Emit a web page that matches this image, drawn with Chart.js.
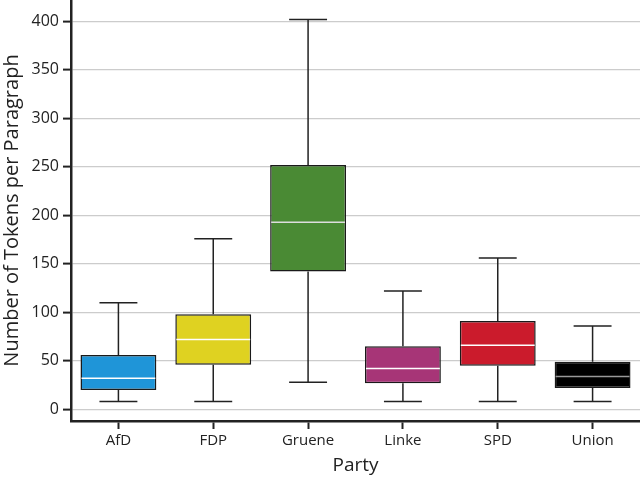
<!DOCTYPE html>
<html><head><meta charset="utf-8">
<script src="https://cdn.jsdelivr.net/npm/chart.js@4/dist/chart.umd.min.js"></script>
<style>html,body{margin:0;padding:0;background:#fff}#wrap{width:640px;height:477px}</style>
</head><body><div id="wrap"><canvas id="c"></canvas></div>
<script>
const parties = ['AfD','FDP','Gruene','Linke','SPD','Union'];
const whiskerLow  = [8, 8, 28, 8, 8, 8];
const q1Values    = [20, 46, 142, 27, 45, 22];
const medians     = [32, 72, 193, 42, 66, 34];
const q3Values    = [56, 98, 252, 65, 91, 49];
const whiskerHigh = [110, 176, 402, 122, 156, 86];
const boxColors   = ['#1f95d8','#dfd221','#4a8a34','#a73577','#cb1b2c','#000000'];
const medianColors= ['#ffffff','#ffffff','#dddddd','#ffffff','#ffffff','#999999'];
const yTicks      = [0,50,100,150,200,250,300,350,400];

const whiskerPlugin = {
  id:'whiskers',
  beforeDatasetsDraw(chart){
    const ctx = chart.ctx, x = chart.scales.x, y = chart.scales.y;
    const meta = chart.getDatasetMeta(0);
    ctx.save();
    ctx.strokeStyle = '#222'; ctx.lineWidth = 1.5;
    parties.forEach((p,i)=>{
      const cx = x.getPixelForValue(i);
      const half = meta.data[i].width/4;
      const yl = y.getPixelForValue(whiskerLow[i]), yq1 = y.getPixelForValue(q1Values[i]);
      const yq3 = y.getPixelForValue(q3Values[i]), yh = y.getPixelForValue(whiskerHigh[i]);
      ctx.beginPath();
      ctx.moveTo(cx, yl); ctx.lineTo(cx, yq1);
      ctx.moveTo(cx, yq3); ctx.lineTo(cx, yh);
      ctx.moveTo(cx-half, yl); ctx.lineTo(cx+half, yl);
      ctx.moveTo(cx-half, yh); ctx.lineTo(cx+half, yh);
      ctx.stroke();
    });
    ctx.restore();
  },
  afterDatasetsDraw(chart){
    const ctx = chart.ctx, x = chart.scales.x, y = chart.scales.y;
    const meta = chart.getDatasetMeta(0);
    ctx.save(); ctx.lineWidth = 1.5;
    parties.forEach((p,i)=>{
      const cx = x.getPixelForValue(i);
      const half = meta.data[i].width/2 - 1;
      const ym = y.getPixelForValue(medians[i]);
      ctx.strokeStyle = medianColors[i];
      ctx.beginPath(); ctx.moveTo(cx-half, ym); ctx.lineTo(cx+half, ym); ctx.stroke();
    });
    ctx.restore();
  }
};

new Chart(document.getElementById('c'), {
  type:'bar',
  data:{ labels: parties, datasets:[{
    data: parties.map((p,i)=>[q1Values[i], q3Values[i]]),
    backgroundColor: boxColors, borderColor:'#1a1a1a', borderWidth:1.5, borderSkipped:false,
    categoryPercentage:0.8, barPercentage:1.0
  }]},
  options:{
    responsive:true, maintainAspectRatio:false, animation:false,
    layout:{padding:{top:0,right:0,left:0,bottom:0}},
    plugins:{legend:{display:false}, tooltip:{enabled:false}},
    scales:{
      x:{
        grid:{drawOnChartArea:false, offset:false, tickLength:8, tickColor:'#222', tickWidth:2},
        border:{display:true, color:'#222', width:2.5},
        ticks:{color:'#222', font:{family:'Open Sans', size:15}, padding:3},
        title:{display:true, text:'Party', color:'#222', font:{family:'Open Sans', size:19}, padding:{top:0,bottom:0}},
        afterFit(s){ s.height = 56; s.paddingLeft = 0; s.paddingRight = 0; }
      },
      y:{
        min:-12, max:422,
        afterBuildTicks(s){ s.ticks = yTicks.map(v=>({value:v})); },
        grid:{color:'#cccccc', lineWidth:1.2, tickLength:8, tickColor:'#222', tickWidth:2},
        border:{display:true, color:'#222', width:2.5},
        ticks:{color:'#222', font:{family:'Open Sans', size:16}, padding:4},
        title:{display:true, text:'Number of Tokens per Paragraph', color:'#222', font:{family:'Open Sans', size:20}, padding:{top:0,bottom:0}},
        afterFit(s){ s.width = 71; s.paddingTop = 0; s.paddingBottom = 0; }
      }
    }
  },
  plugins:[whiskerPlugin]
});
</script></body></html>
